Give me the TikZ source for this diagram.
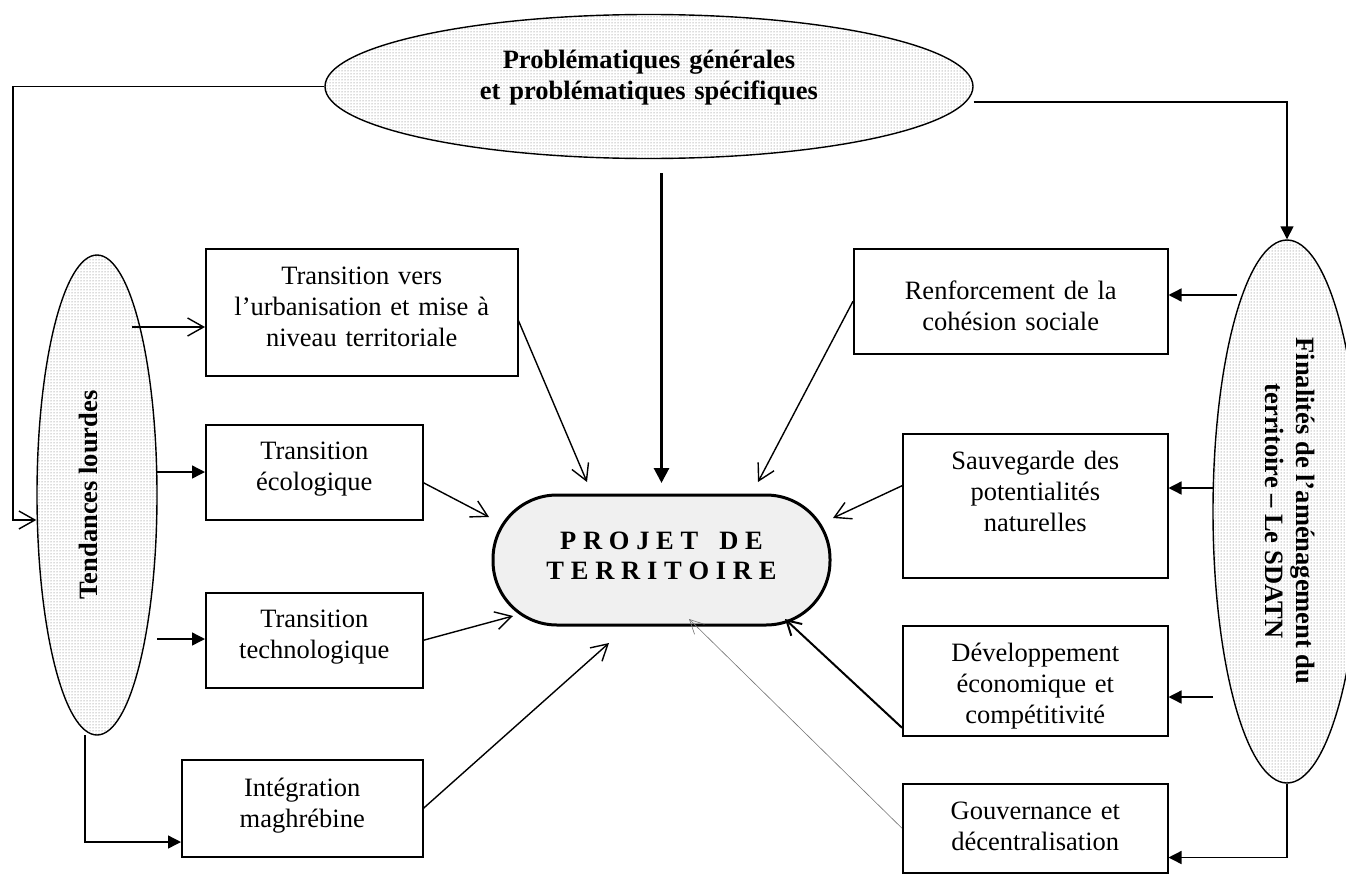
\documentclass[tikz,border=0pt]{standalone}
\usepackage{fontspec}
\setmainfont{Liberation Serif}
\usetikzlibrary{shapes.geometric,arrows.meta,patterns,calc}
\newcommand\lspc{\kern6.75pt}
\newcommand\dfont{\fontsize{26.5}{31}\selectfont}
\begin{document}
\begin{tikzpicture}[x=1pt,y=-1pt,
  box/.style={draw, line width=1.5pt, fill=white, align=center, inner sep=0pt, font=\dfont, anchor=north west},
  ell/.style={ellipse, draw, line width=1.4pt, pattern=dots, pattern color=black!60, inner sep=0pt},
  opn/.style={-{Straight Barb[length=16pt,width=18pt]}, line width=1.4pt},
  tri/.style={-{Triangle[length=13pt,width=13pt]}, line width=1.4pt},
  thickarr/.style={-{Triangle[length=15pt,width=15pt]}, line width=3pt},
  devarr/.style={-{Straight Barb[length=14pt,width=16pt]}, line width=2pt},
  thinarr/.style={-{Straight Barb[length=14pt,width=14pt]}, line width=0.6pt, black!55}]
\useasboundingbox (0,0) rectangle (1346,875);
\clip (0,0) rectangle (1346,875);

% ellipses
\node[ell, minimum width=648pt, minimum height=144pt, text width=440pt, align=center,
      font=\dfont\bfseries, text height=20pt, text depth=55pt] (prob) at (649,86.5)
      {Problématiques générales\\et problématiques spécifiques};
\node[ell, minimum width=120pt, minimum height=480pt] (tend) at (97,495) {};
\node[rotate=90, font=\dfont\bfseries, inner sep=0pt] (tendtxt) at (88,495) {Tendances lourdes};
\node[ell, minimum width=148pt, minimum height=543pt] (fin) at (1287,511.5) {};
\node[rotate=-90, font=\dfont\bfseries, align=center, inner sep=0pt] (fintxt) at (1290,511)
      {Finalités de l’aménagement du\\territoire – Le SDATN};

% boxes left
\node[box, text width=312pt, text height=36pt, text depth=91pt] (tv) at (205,248)
      {Transition vers\\l’urbanisation et mise à\\niveau territoriale};
\node[box, text width=217pt, text height=35pt, text depth=60pt] (eco) at (205,424)
      {Transition\\écologique};
\node[box, text width=217pt, text height=35pt, text depth=60pt] (tech) at (205,592)
      {Transition\\technologique};
\node[box, text width=241pt, text height=37pt, text depth=60pt] (integ) at (181,759)
      {Intégration\\maghrébine};
% boxes right
\node[box, text width=314pt, text height=51pt, text depth=54pt] (renf) at (853,248)
      {Renforcement de la\\cohésion sociale};
\node[box, text width=265pt, text height=36pt, text depth=108pt] (sauv) at (902,433)
      {Sauvegarde des\\potentialités\\naturelles};
\node[box, text width=265pt, text height=36pt, text depth=74pt] (dev) at (902,625)
      {Développement\\économique et\\compétitivité};
\node[box, text width=265pt, text height=36pt, text depth=53pt] (gouv) at (902,783)
      {Gouvernance et\\décentralisation};

% centre
\node[draw, rectangle, rounded corners=64pt, line width=3pt, fill=black!6, text width=337pt,
      inner sep=0pt, align=center, font=\dfont\bfseries, text height=54pt, text depth=76pt]
      (proj) at (661.5,560)
      {P\lspc R\lspc O\lspc J\lspc E\lspc T\kern21pt D\lspc E\\[-1pt]T\lspc E\lspc R\lspc R\lspc I\lspc T\lspc O\lspc I\lspc R\lspc E};

% coordinates
\coordinate (h1) at (0,102);
\coordinate (l1) at (13,520);
\coordinate (f1) at (1237,295);
\coordinate (f2) at (1213,488);
\coordinate (f3) at (1213,697);
\coordinate (t1) at (132,327);
\coordinate (t2) at (157,472);
\coordinate (t3) at (157,639);
\coordinate (t4) at (85,735);
\coordinate (t5) at (85,842);
\coordinate (p1) at (661.5,173);

% connectors from the top ellipse
\draw[opn] (prob.west) -| (l1) -- (l1 -| tend.west);
\draw[tri] (prob.east |- h1) -| (fin.north);
\draw[thickarr] (p1) -- ($(proj.center)+(0,-77)$);

% right ellipse to boxes
\draw[tri] (f1) -- (f1 -| renf.east);
\draw[tri] (f2) -- (f2 -| sauv.east);
\draw[tri] (f3) -- (f3 -| dev.east);
\draw[tri] (fin.south) |- ($(gouv.south east)+(0,-16)$);

% left ellipse to boxes
\draw[opn] (t1) -- (t1 -| tv.west);
\draw[tri] (t2) -- (t2 -| eco.west);
\draw[tri] (t3) -- (t3 -| tech.west);
\draw[tri] (t4) -- (t5) -- (t5 -| integ.west);

% boxes to centre
\draw[opn] ($(tv.east)+(0,8.5)$) -- ($(proj.center)+(-74.5,-78)$);
\draw[opn] (renf.west) -- ($(proj.center)+(96.5,-78)$);
\draw[opn] ($(eco.east)+(0,10.5)$) -- ($(proj.center)+(-172.5,-43)$);
\draw[opn] ($(sauv.west)+(0,-20)$) -- ($(proj.center)+(171.5,-42)$);
\draw[opn] (tech.east) -- ($(proj.center)+(-148.5,56)$);
\draw[opn] (integ.east) -- ($(proj.center)+(-52.5,83)$);
\draw[devarr] ($(dev.west)+(0,47)$) -- ($(proj.center)+(123.5,59)$);
\draw[thinarr] (gouv.west) -- ($(proj.center)+(27.5,59)$);
\end{tikzpicture}
\end{document}
